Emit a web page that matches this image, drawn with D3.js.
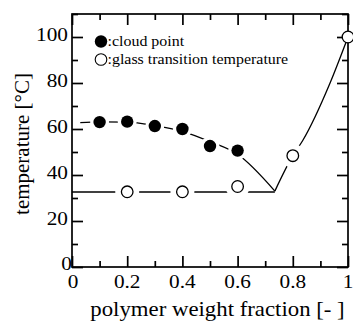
<!DOCTYPE html>
<html><head><meta charset="utf-8">
<script src="https://cdn.jsdelivr.net/npm/d3@7"></script>
<style>body{margin:0;background:#fff}svg{display:block}</style>
</head><body><svg id="c" width="353" height="325"></svg>
<script>
// data
const cloudX = [0.1, 0.2, 0.3, 0.4, 0.5, 0.6];
const cloudY = [63, 63.2, 61.3, 60, 52.6, 50.6];
const tgX = [0.2, 0.4, 0.6, 0.8, 1.0];
const tgY = [32.7, 32.7, 35, 48.4, 100];
const cloudCurveX = [0.03, 0.1, 0.2, 0.3, 0.4, 0.5, 0.6, 0.735];
const cloudCurveY = [62.8, 63.1, 63, 61.5, 59, 54.5, 49, 33];
const tgFlatX = [0, 0.735];
const tgFlatY = [32.6, 32.6];
const tgRiseX = [0.735, 0.8, 0.836, 0.935, 1.0];
const tgRiseY = [33, 48.4, 55, 80, 100];
const xTicks = [0, 0.2, 0.4, 0.6, 0.8, 1];
const xMinorTicks = [0.1, 0.3, 0.5, 0.7, 0.9];
const xTickLabels = ["0", "0.2", "0.4", "0.6", "0.8", "1"];
const yTicks = [0, 20, 40, 60, 80, 100];
const yMinorTicks = [10, 30, 50, 70, 90, 110];
const legendLabels = [":cloud point", ":glass transition temperature"];
const xTitle = "polymer weight fraction [- ]";
const yTitle = "temperature [°C]";

const svg = d3.select("#c");
const L = 72, R = 348, T = 14, B = 267;
const x = d3.scaleLinear().domain([0, 1]).range([L, R]);
const y = d3.scaleLinear().domain([0, 110]).range([B, T]);
const sw = 1.3;
const serif = "'Liberation Serif', 'DejaVu Serif', 'Times New Roman', serif";

// inward ticks on all four sides, drawn with d3 axes
function addAxis(axis, tx, ty) {
  const a = svg.append("g").attr("transform", `translate(${tx},${ty})`).call(axis);
  a.select(".domain").remove();
  a.selectAll(".tick line").attr("stroke", "#000").attr("stroke-width", 1.7);
  a.selectAll(".tick text").remove();
}
[[xTicks, 11], [xMinorTicks, 6]].forEach(([vals, len]) => {
  addAxis(d3.axisBottom(x).tickValues(vals).tickSizeInner(-len).tickSizeOuter(0).tickFormat(""), 0, B);
  addAxis(d3.axisTop(x).tickValues(vals).tickSizeInner(-len).tickSizeOuter(0).tickFormat(""), 0, T);
});
[[yTicks, 11], [yMinorTicks, 6]].forEach(([vals, len]) => {
  addAxis(d3.axisLeft(y).tickValues(vals).tickSizeInner(-len).tickSizeOuter(0).tickFormat(""), L, 0);
  addAxis(d3.axisRight(y).tickValues(vals).tickSizeInner(-len).tickSizeOuter(0).tickFormat(""), R, 0);
});
svg.append("rect").attr("x", L).attr("y", T).attr("width", R - L).attr("height", B - T)
  .attr("fill", "none").attr("stroke", "#000").attr("stroke-width", 1.7);

// text helper: wide Times-like face, stretched along the text direction
function txt(xx, yy, s, size, anchor, sx, rot) {
  return svg.append("text")
    .attr("transform", `translate(${xx},${yy})${rot ? " rotate(" + rot + ")" : ""} scale(${sx || 1.12},1)`)
    .attr("text-anchor", anchor || "start")
    .attr("font-family", serif).attr("font-size", size).attr("fill", "#000").text(s);
}
// tick labels
xTicks.forEach((v, i) => txt(x(v) + (v === 0 ? 1 : 0), 287.5, xTickLabels[i], 19, "middle"));
yTicks.forEach(v => txt(v === 0 ? 72 : 68, y(v) + (v === 0 ? 3 : 3.7), String(v), 19, "end"));
txt(217.5, 315.5, xTitle, 20, "middle", 1.14);
txt(29, 144, yTitle, 20, "middle", 1.05, -90);

// curves
const line = d3.line().x(d => x(d[0])).y(d => y(d[1]));
const curve = d3.line().x(d => x(d[0])).y(d => y(d[1])).curve(d3.curveMonotoneX);
svg.append("path").attr("d", curve(cloudCurveX.map((v, i) => [v, cloudCurveY[i]])))
  .attr("fill", "none").attr("stroke", "#000").attr("stroke-width", sw);
svg.append("path").attr("d", line(tgFlatX.map((v, i) => [v, tgFlatY[i]])))
  .attr("fill", "none").attr("stroke", "#000").attr("stroke-width", sw);
svg.append("path").attr("d", curve(tgRiseX.map((v, i) => [v, tgRiseY[i]])))
  .attr("fill", "none").attr("stroke", "#000").attr("stroke-width", sw);

// halos to break the lines around markers
cloudX.forEach((v, i) => {
  svg.append("circle").attr("cx", x(v)).attr("cy", y(cloudY[i])).attr("r", 9.5).attr("fill", "#fff");
});
tgX.forEach((v, i) => {
  if (v < 1) svg.append("circle").attr("cx", x(v)).attr("cy", y(tgY[i])).attr("r", 12).attr("fill", "#fff");
});
// markers
cloudX.forEach((v, i) => {
  svg.append("circle").attr("cx", x(v)).attr("cy", y(cloudY[i])).attr("r", 6.2).attr("fill", "#000");
});
tgX.forEach((v, i) => {
  svg.append("circle").attr("cx", x(v)).attr("cy", y(tgY[i])).attr("r", 5.8)
    .attr("fill", "#fff").attr("stroke", "#000").attr("stroke-width", sw);
});

// legend
svg.append("circle").attr("cx", 101).attr("cy", 41.5).attr("r", 6.2).attr("fill", "#000");
svg.append("circle").attr("cx", 101).attr("cy", 59.5).attr("r", 5.8).attr("fill", "#fff").attr("stroke", "#000").attr("stroke-width", 1.1);
txt(107.5, 46, legendLabels[0], 14, "start", 1.14);
txt(107.5, 64, legendLabels[1], 14, "start", 1.14);
</script></body></html>
